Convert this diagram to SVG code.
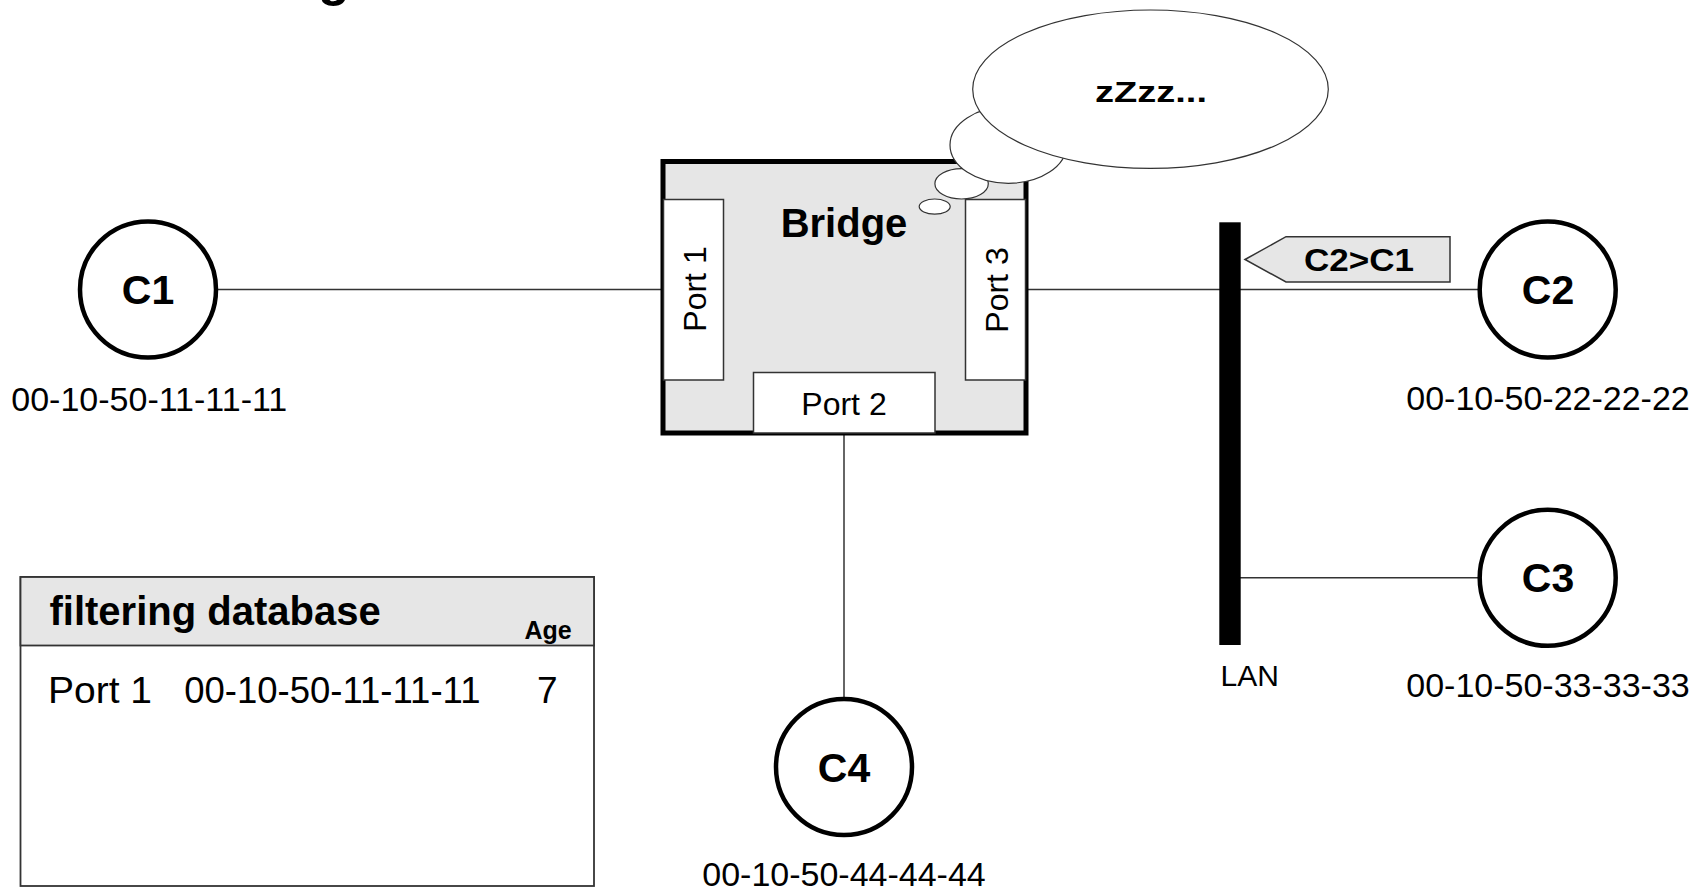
<svg xmlns="http://www.w3.org/2000/svg" width="1700" height="890" viewBox="0 0 1700 890">
  <style>
    text { font-family: "Liberation Sans", Arial, Helvetica, sans-serif; fill: #000; }
    .b { font-weight: bold; }
    .mid { text-anchor: middle; }
    .host { fill: #fff; stroke: #000; stroke-width: 4.5; }
    .wire { stroke: #333; stroke-width: 1.5; fill: none; }
    .port { fill: #fff; stroke: #333; stroke-width: 1.5; }
    .puff { fill: #fff; stroke: #333; stroke-width: 1.2; }
    .shade { fill: #e6e6e6; }
    .mac { font-size: 34px; }
    .hostname { font-size: 41px; font-weight: bold; text-anchor: middle; }
    .portname { font-size: 32px; text-anchor: middle; }
  </style>

  <!-- heading, only its last descender reaches into view -->
  <text class="b" x="318" y="-5" font-size="52">g</text>

  <!-- links -->
  <g id="connectors">
    <line class="wire" x1="218" y1="289.5" x2="663" y2="289.5"/>
    <line class="wire" x1="1026" y1="289.5" x2="1478" y2="289.5"/>
    <line class="wire" x1="844" y1="433" x2="844" y2="697"/>
    <line class="wire" x1="1240" y1="577.8" x2="1478" y2="577.8"/>
  </g>

  <!-- bridge with its three ports -->
  <g id="bridge">
    <rect class="shade" x="663" y="161.5" width="363" height="271.5" stroke="#000" stroke-width="5"/>
    <text class="b mid" x="844" y="237" font-size="40">Bridge</text>
    <g id="port1">
      <rect class="port" x="663.5" y="199.5" width="60" height="180.5"/>
      <text class="portname" transform="translate(705.5,289) rotate(-90)">Port 1</text>
    </g>
    <g id="port3">
      <rect class="port" x="965.5" y="199.5" width="60" height="180.5"/>
      <text class="portname" transform="translate(1007.5,290) rotate(-90)">Port 3</text>
    </g>
    <g id="port2">
      <rect class="port" x="753.5" y="372.5" width="181.5" height="60.5"/>
      <text class="portname" x="844" y="415">Port 2</text>
    </g>
  </g>

  <!-- thought bubble above the bridge -->
  <g id="thought">
    <ellipse class="puff" cx="934.7" cy="206.6" rx="15.5" ry="7.6"/>
    <ellipse class="puff" cx="961.6" cy="183.8" rx="26.7" ry="15.2"/>
    <ellipse class="puff" cx="1008.3" cy="145" rx="58.3" ry="38.3"/>
    <ellipse class="puff" cx="1150.5" cy="89.2" rx="177.8" ry="79.2"/>
    <text class="b mid" x="1151" y="102.3" font-size="30" textLength="112" lengthAdjust="spacingAndGlyphs">zZzz...</text>
  </g>

  <!-- stations -->
  <g id="c1">
    <circle class="host" cx="148" cy="289.5" r="68"/>
    <text class="hostname" x="148" y="304">C1</text>
    <text class="mac" x="11.3" y="410.7">00-10-50-11-11-11</text>
  </g>
  <g id="c2">
    <circle class="host" cx="1547.7" cy="289.5" r="68"/>
    <text class="hostname" x="1548" y="304.3">C2</text>
    <text class="mac mid" x="1548" y="410">00-10-50-22-22-22</text>
  </g>
  <g id="c3">
    <circle class="host" cx="1547.7" cy="577.8" r="68"/>
    <text class="hostname" x="1548" y="592">C3</text>
    <text class="mac mid" x="1548" y="696.7">00-10-50-33-33-33</text>
  </g>
  <g id="c4">
    <circle class="host" cx="844" cy="767" r="68"/>
    <text class="hostname" x="844" y="781.5">C4</text>
    <text class="mac mid" x="844" y="886">00-10-50-44-44-44</text>
  </g>

  <!-- shared segment -->
  <g id="lan">
    <rect x="1219.3" y="222.3" width="21.4" height="422.7" fill="#000"/>
    <text x="1220.6" y="686" font-size="30">LAN</text>
  </g>

  <!-- frame travelling from C2 toward C1 -->
  <g id="frame">
    <polygon class="shade" points="1245,259.5 1286,236.7 1450,236.7 1450,282 1286,282" stroke="#333" stroke-width="1.5"/>
    <text class="b" x="1304" y="271" font-size="32" textLength="110" lengthAdjust="spacingAndGlyphs">C2&gt;C1</text>
  </g>

  <!-- filtering database table -->
  <g id="fdb">
    <rect x="20.5" y="577" width="573.5" height="309" fill="#fff" stroke="#333" stroke-width="1.8"/>
    <rect class="shade" x="20.5" y="577" width="573.5" height="68.5" stroke="#333" stroke-width="1.8"/>
    <text class="b" x="49.5" y="625" font-size="40">filtering database</text>
    <text class="b" x="524.5" y="638.5" font-size="25">Age</text>
    <text x="48" y="702.7" font-size="37" textLength="104" lengthAdjust="spacingAndGlyphs">Port 1</text>
    <text x="184.2" y="702.7" font-size="36.5">00-10-50-11-11-11</text>
    <text x="537" y="702.7" font-size="37">7</text>
  </g>
</svg>
